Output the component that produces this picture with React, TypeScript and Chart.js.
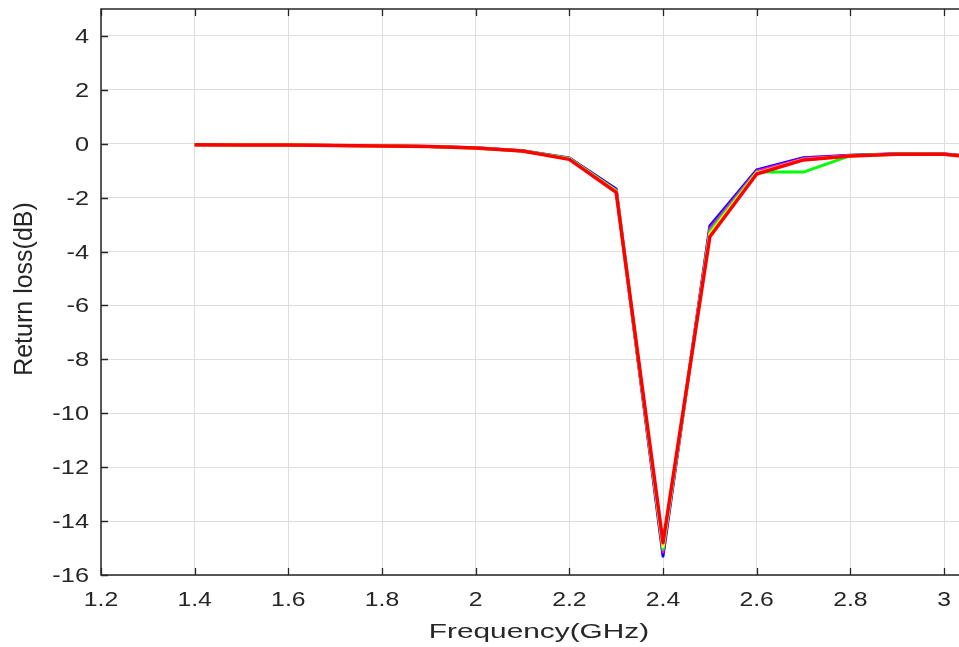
import React, { useEffect, useRef } from "react";
import { Chart, registerables } from "chart.js";

Chart.register(...registerables);

const frequencies = [1.4, 1.5, 1.6, 1.7, 1.8, 1.9, 2.0, 2.1, 2.2, 2.3, 2.4, 2.5, 2.6, 2.7, 2.8, 2.9, 3.0, 3.1];

const blueLoss = [-0.04, -0.045, -0.05, -0.06, -0.075, -0.1, -0.15, -0.26, -0.53, -1.68, -15.3, -3.05, -0.97, -0.52, -0.43, -0.37, -0.38, -0.53];
const magentaLoss = [-0.04, -0.045, -0.05, -0.06, -0.077, -0.1, -0.155, -0.265, -0.545, -1.72, -15.15, -3.15, -1.02, -0.55, -0.44, -0.38, -0.38, -0.54];
const greenLoss = [-0.04, -0.045, -0.05, -0.06, -0.078, -0.1, -0.155, -0.265, -0.55, -1.74, -15.05, -3.25, -1.05, -1.05, -0.44, -0.38, -0.39, -0.54];
const yellowLoss = [-0.04, -0.045, -0.05, -0.06, -0.079, -0.1, -0.16, -0.27, -0.565, -1.76, -14.95, -3.35, -1.08, -0.58, -0.45, -0.39, -0.39, -0.55];
const redLoss = [-0.04, -0.045, -0.05, -0.06, -0.08, -0.1, -0.16, -0.27, -0.58, -1.8, -14.8, -3.45, -1.12, -0.6, -0.45, -0.39, -0.39, -0.55];

const xTicks = [1.2, 1.4, 1.6, 1.8, 2.0, 2.2, 2.4, 2.6, 2.8, 3.0];
const yTicks = [-16, -14, -12, -10, -8, -6, -4, -2, 0, 2, 4];
const xTitle = "Frequency(GHz)";
const yTitle = "Return loss(dB)";

const seriesList = [
  { name: "blue", values: blueLoss, color: "#0000ff", width: 3, order: 4 },
  { name: "magenta", values: magentaLoss, color: "#ff00ff", width: 3, order: 3 },
  { name: "green", values: greenLoss, color: "#00ff00", width: 3, order: 2 },
  { name: "yellow", values: yellowLoss, color: "#ffff00", width: 3, order: 1 },
  { name: "red", values: redLoss, color: "#ff0000", width: 3.5, order: 0 },
];

const AXIS_COLOR = "#262626";
const FONT = "'Liberation Sans', Arial, Helvetica, sans-serif";

function fmt(v: number) {
  return String(Math.round(v * 10) / 10);
}

function drawText(
  ctx: CanvasRenderingContext2D,
  text: string,
  x: number,
  y: number,
  size: number,
  sx: number,
  align: CanvasTextAlign,
  rotate = 0
) {
  ctx.save();
  ctx.translate(x, y);
  if (rotate) ctx.rotate(rotate);
  ctx.scale(sx, 1);
  ctx.font = `${size}px ${FONT}`;
  ctx.textAlign = align;
  ctx.textBaseline = "alphabetic";
  ctx.fillStyle = AXIS_COLOR;
  ctx.fillText(text, 0, 0);
  ctx.restore();
}

const boxPlugin = {
  id: "matlabBox",
  afterDatasetsDraw(chart: any) {
    const { ctx, chartArea } = chart;
    const { left, right, top, bottom } = chartArea;
    const xs = chart.scales.x;
    const ys = chart.scales.y;
    const tl = 7;
    ctx.save();
    ctx.strokeStyle = AXIS_COLOR;
    ctx.lineWidth = 1.5;
    ctx.beginPath();
    ctx.moveTo(right + 2, top);
    ctx.lineTo(left, top);
    ctx.lineTo(left, bottom);
    ctx.lineTo(right + 2, bottom);
    ctx.stroke();
    ctx.lineWidth = 1.3;
    ctx.beginPath();
    xTicks.forEach((v) => {
      const px = Math.round(xs.getPixelForValue(v)) + 0.5;
      ctx.moveTo(px, bottom);
      ctx.lineTo(px, bottom - tl);
      ctx.moveTo(px, top);
      ctx.lineTo(px, top + tl);
    });
    yTicks.forEach((v) => {
      const py = Math.round(ys.getPixelForValue(v)) + 0.5;
      ctx.moveTo(left, py);
      ctx.lineTo(left + tl, py);
    });
    ctx.stroke();
    ctx.restore();

    // tick labels
    xTicks.forEach((v) => {
      const px = xs.getPixelForValue(v);
      drawText(ctx, fmt(v), px, bottom + 31, 19.5, 1.27, "center");
    });
    yTicks.forEach((v) => {
      const py = ys.getPixelForValue(v);
      drawText(ctx, fmt(v), left - 12, py + 7, 19.5, 1.3, "right");
    });
    // axis titles
    drawText(ctx, xTitle, 539, 638, 21, 1.42, "center");
    drawText(ctx, yTitle, 32, (top + bottom) / 2 - 3, 25, 1.0, "center", -Math.PI / 2);
  },
};

export default function App() {
  const canvasRef = useRef<HTMLCanvasElement | null>(null);

  useEffect(() => {
    document.body.style.margin = "0";
    const canvas = canvasRef.current;
    if (!canvas) return;
    const chart = new Chart(canvas, {
      type: "line",
      data: {
        datasets: seriesList.map((s) => ({
          label: s.name,
          data: frequencies.map((f, i) => ({ x: f, y: s.values[i] })),
          borderColor: s.color,
          backgroundColor: s.color,
          borderWidth: s.width,
          borderJoinStyle: "round" as const,
          order: s.order,
          pointRadius: 0,
          tension: 0,
          fill: false,
        })),
      },
      options: {
        responsive: false,
        animation: false,
        layout: { padding: { top: 9, right: 0, left: 0, bottom: 0 } },
        plugins: {
          legend: { display: false },
          tooltip: { enabled: false },
        },
        scales: {
          x: {
            type: "linear",
            min: 1.2,
            max: 3.032,
            afterBuildTicks: (axis: any) => {
              axis.ticks = xTicks.map((v) => ({ value: v }));
            },
            afterFit: (axis: any) => {
              axis.height = 72;
              axis.paddingLeft = 0;
              axis.paddingRight = 0;
            },
            grid: { color: "#dedede", lineWidth: 1, drawTicks: false },
            border: { display: false },
            ticks: { display: false, autoSkip: false },
            title: { display: false },
          },
          y: {
            type: "linear",
            min: -16,
            max: 5,
            afterBuildTicks: (axis: any) => {
              axis.ticks = yTicks.map((v) => ({ value: v }));
            },
            afterFit: (axis: any) => {
              axis.width = 101;
              axis.paddingTop = 0;
              axis.paddingBottom = 0;
            },
            grid: { color: "#dedede", lineWidth: 1, drawTicks: false },
            border: { display: false },
            ticks: { display: false, autoSkip: false },
            title: { display: false },
          },
        },
      },
      plugins: [boxPlugin],
    });
    return () => chart.destroy();
  }, []);

  return (
    <div style={{ position: "absolute", left: 0, top: 0, width: 959, height: 647, background: "#fff" }}>
      <canvas ref={canvasRef} width={959} height={647} style={{ display: "block" }} />
    </div>
  );
}
